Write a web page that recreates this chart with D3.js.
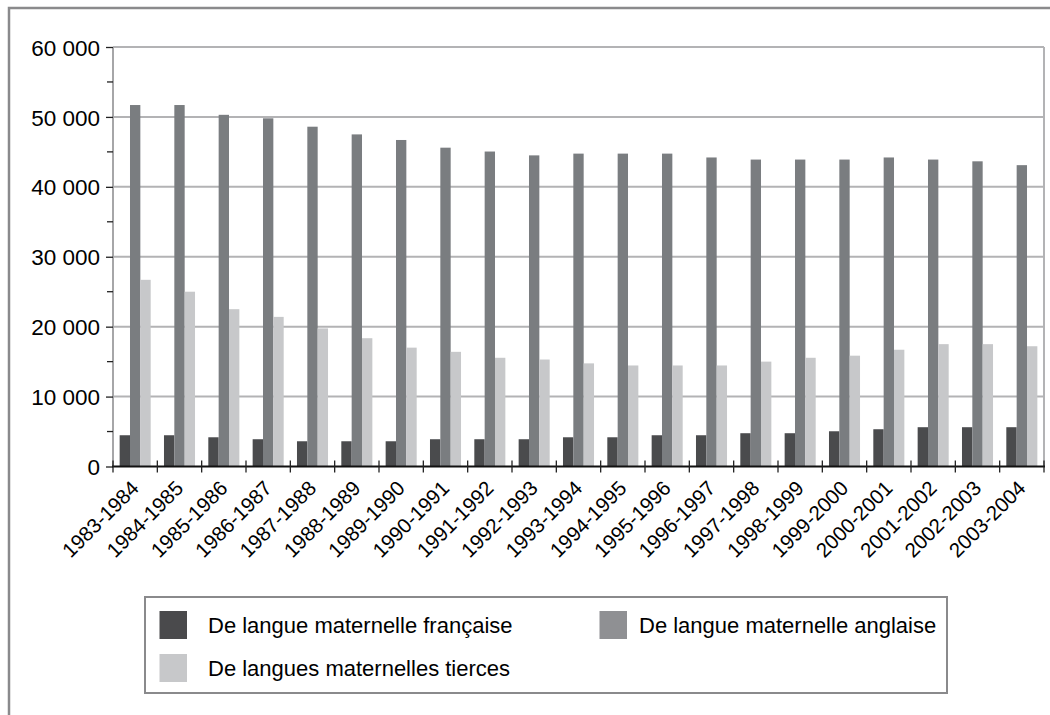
<!DOCTYPE html>
<html><head><meta charset="utf-8">
<script src="https://cdn.jsdelivr.net/npm/d3@7"></script>
<style>
html,body{margin:0;padding:0;background:#fff;}
svg{display:block;font-family:"Liberation Sans",Arial,sans-serif;}
</style></head>
<body>
<script>
const categories = ["1983-1984","1984-1985","1985-1986","1986-1987","1987-1988","1988-1989","1989-1990","1990-1991","1991-1992","1992-1993","1993-1994","1994-1995","1995-1996","1996-1997","1997-1998","1998-1999","1999-2000","2000-2001","2001-2002","2002-2003","2003-2004"];
const francaise = [4470,4470,4180,3900,3610,3610,3610,3900,3900,3900,4180,4180,4470,4470,4760,4760,5040,5330,5620,5620,5620];
const anglaise = [51700,51700,50300,49800,48600,47500,46700,45600,45050,44500,44750,44750,44750,44200,43900,43900,43900,44200,43900,43650,43100];
const tierces = [26700,25000,22500,21400,19750,18350,17000,16400,15550,15300,14750,14450,14450,14450,15000,15550,15850,16700,17500,17500,17200];
const seriesNames = ["De langue maternelle française","De langue maternelle anglaise","De langues maternelles tierces"];
const yTicks = [0,10000,20000,30000,40000,50000,60000];
const yMinorTicks = [5000,15000,25000,35000,45000,55000];

(function(){
const barColors = ["#4a4b4d","#7a7d80","#c7c8ca"];
const swatchColors = ["#4a4a4c","#8f9093","#c7c8ca"];
const seriesData = [francaise, anglaise, tierces];

const W = 1050, H = 715;
const svg = d3.select("body").append("svg").attr("width", W).attr("height", H);

// outer frame
svg.append("rect").attr("x",9).attr("y",8).attr("width",1060).attr("height",720)
  .attr("fill","none").attr("stroke","#8a8a8c").attr("stroke-width",2.5);

const pL = 113, pR = 1044, pT = 47, pB = 466.5;
const x0 = d3.scaleBand().domain(categories).range([pL, pR]).padding(0);
const bw = x0.bandwidth();
const gap = bw * 0.15;
const x1 = d3.scaleBand().domain([0,1,2]).range([gap, bw - gap]).padding(0);
const y = d3.scaleLinear().domain([0,60000]).range([pB, pT]);

// gridlines
svg.append("g").selectAll("line").data(yTicks.slice(1)).join("line")
  .attr("x1", pL).attr("x2", pR).attr("y1", d=>y(d)).attr("y2", d=>y(d))
  .attr("stroke","#b3b3b5").attr("stroke-width",2);
// right border of plot
svg.append("line").attr("x1",pR).attr("x2",pR).attr("y1",pT).attr("y2",pB)
  .attr("stroke","#b3b3b5").attr("stroke-width",2);

// bars
const groups = svg.append("g").selectAll("g").data(categories).join("g")
  .attr("transform", d => `translate(${x0(d)},0)`);
groups.selectAll("rect").data((d,i) => seriesData.map((s,k) => ({k, v: s[i]}))).join("rect")
  .attr("x", d => x1(d.k)).attr("width", x1.bandwidth())
  .attr("y", d => y(d.v)).attr("height", d => y(0) - y(d.v))
  .attr("fill", d => barColors[d.k]);

// y axis
const yAxisG = svg.append("g").attr("transform", `translate(${pL},0)`);
yAxisG.append("line").attr("x1",0).attr("x2",0).attr("y1",pT).attr("y2",pB)
  .attr("stroke","#a6a6a8").attr("stroke-width",2);
const yAx = d3.axisLeft(y).tickValues(yTicks).tickSize(7).tickPadding(6)
  .tickFormat(d => d3.format(",")(d).replace(/,/g, " "));
const ya = yAxisG.append("g").call(yAx);
ya.select(".domain").remove();
ya.selectAll(".tick line").attr("stroke","#222").attr("stroke-width",1.3);
ya.selectAll(".tick text").attr("font-size", 22.5).attr("fill","#000")
  .attr("font-family","'Liberation Sans',Arial,sans-serif").attr("dy","0.36em");
yAxisG.append("g").selectAll("line").data(yMinorTicks).join("line")
  .attr("x1",-6).attr("x2",0).attr("y1",d=>y(d)).attr("y2",d=>y(d))
  .attr("stroke","#222").attr("stroke-width",1.3);

// x axis
const xg = svg.append("g");
xg.append("line").attr("x1",pL-1).attr("x2",pR+1).attr("y1",pB).attr("y2",pB)
  .attr("stroke","#111").attr("stroke-width",2);
const bounds = categories.map(c => x0(c)).concat([pR]);
xg.selectAll("line.tk").data(bounds).join("line").attr("class","tk")
  .attr("x1", d=>d).attr("x2", d=>d).attr("y1", pB-6).attr("y2", pB+6)
  .attr("stroke","#222").attr("stroke-width",1.3);
xg.selectAll("text").data(categories).join("text")
  .attr("transform", d => `translate(${x0(d) + bw/2 + 5},${pB + 23}) rotate(-45)`)
  .attr("text-anchor","end").attr("font-size",20.5).attr("fill","#000")
  .text(d => d);

// legend
const lg = svg.append("g");
lg.append("rect").attr("x",145).attr("y",597).attr("width",802).attr("height",96)
  .attr("fill","#fff").attr("stroke","#8a8a8c").attr("stroke-width",2);
const legendItems = [
  {k:0, sx:159.5, sy:611, tx:208},
  {k:1, sx:599.5, sy:611, tx:639},
  {k:2, sx:159.5, sy:654, tx:208}
];
legendItems.forEach(it => {
  lg.append("rect").attr("x",it.sx).attr("y",it.sy).attr("width",27.5).attr("height",28)
    .attr("fill",swatchColors[it.k]);
  lg.append("text").attr("x",it.tx).attr("y",it.sy+21.5).attr("font-size",22).attr("fill","#000")
    .text(seriesNames[it.k]);
});
})();
</script>
</body></html>
